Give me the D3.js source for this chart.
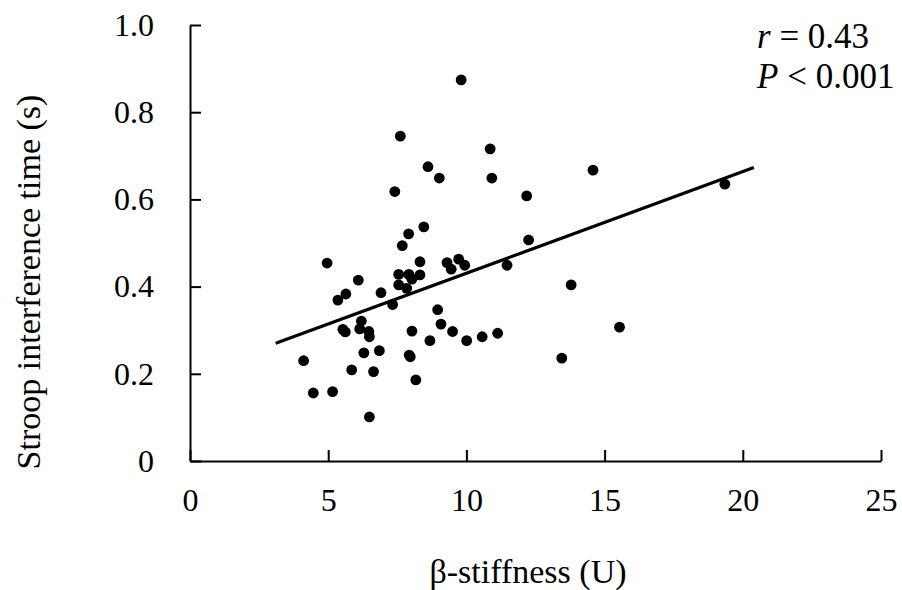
<!DOCTYPE html>
<html lang="en">
<head>
    <meta charset="UTF-8">
    <title>Stroop vs beta-stiffness</title>
    <script src="https://d3js.org/d3.v7.min.js"></script>
    <style>
        body { margin: 0; background: #fff; }
        text { font-family: "Liberation Serif", "Times New Roman", serif; fill: #000; }
        .axis path, .axis line { stroke: #000; stroke-width: 2; }
        .axis text { font-size: 32px; }
    </style>
</head>
<body>
<script>
    const width = 902;
    const height = 590;

    // data
    const stiffness = [9.81, 7.61, 10.86, 8.61, 9.02, 10.92, 7.41, 12.18, 14.58, 19.35,
        8.46, 7.91, 7.68, 4.96, 12.25, 6.09, 8.32, 9.30, 9.45, 9.72,
        9.94, 11.47, 7.55, 7.92, 8.03, 8.32, 7.55, 7.84, 5.64, 5.35,
        6.91, 7.33, 13.79, 8.96, 9.08, 6.20, 6.14, 6.47, 6.49, 5.53,
        5.62, 8.03, 9.50, 11.13, 10.57, 8.68, 10.01, 15.54, 6.29, 6.85,
        7.93, 7.97, 13.45, 4.11, 5.85, 6.64, 8.17, 4.46, 5.16, 6.49];
    const stroop = [0.874, 0.745, 0.716, 0.675, 0.649, 0.649, 0.618, 0.608, 0.667, 0.635,
        0.537, 0.521, 0.494, 0.454, 0.507, 0.415, 0.457, 0.455, 0.440, 0.463,
        0.449, 0.449, 0.428, 0.428, 0.417, 0.427, 0.404, 0.396, 0.383, 0.369,
        0.386, 0.359, 0.404, 0.347, 0.314, 0.321, 0.303, 0.297, 0.285, 0.302,
        0.296, 0.298, 0.297, 0.293, 0.285, 0.276, 0.276, 0.307, 0.248, 0.253,
        0.243, 0.239, 0.236, 0.230, 0.209, 0.205, 0.186, 0.156, 0.159, 0.101];

    // regression line end points
    const fitX = [3.1, 20.4];
    const fitY = [0.270, 0.673];

    const xTicks = [0, 5, 10, 15, 20, 25];
    const yTicks = [0, 0.2, 0.4, 0.6, 0.8, 1.0];
    const statLines = [["r", " = 0.43"], ["P", " < 0.001"]];

    const margin = {left: 190, right: 21, top: 25, bottom: 129};

    const svg = d3.select("body").append("svg")
            .attr("width", width).attr("height", height);

    const x = d3.scaleLinear().domain([0, 25]).range([margin.left, width - margin.right]);
    const y = d3.scaleLinear().domain([0, 1]).range([height - margin.bottom, margin.top]);

    svg.append("g")
            .attr("class", "axis")
            .attr("transform", `translate(0,${y(0)})`)
            .call(d3.axisBottom(x).tickValues(xTicks).tickSizeInner(-11).tickSizeOuter(0)
                    .tickPadding(27).tickFormat(d3.format("d")));

    svg.append("g")
            .attr("class", "axis")
            .attr("transform", `translate(${x(0)},0)`)
            .call(d3.axisLeft(y).tickValues(yTicks).tickSizeInner(-11).tickSizeOuter(0)
                    .tickPadding(36).tickFormat(d => d === 0 ? "0" : d3.format(".1f")(d)));

    // points
    svg.append("g").selectAll("circle")
            .data(stiffness.map((v, i) => [v, stroop[i]]))
            .enter().append("circle")
            .attr("cx", d => x(d[0]))
            .attr("cy", d => y(d[1]))
            .attr("r", 5.4)
            .attr("fill", "#000");

    // fit line
    svg.append("line")
            .attr("x1", x(fitX[0])).attr("y1", y(fitY[0]))
            .attr("x2", x(fitX[1])).attr("y2", y(fitY[1]))
            .attr("stroke", "#000").attr("stroke-width", 3.2);

    // r and P text
    const stat = svg.append("g");
    statLines.forEach((s, i) => {
        const t = stat.append("text")
                .attr("x", 757).attr("y", 48 + i * 40)
                .style("font-size", "35px");
        t.append("tspan").style("font-style", "italic").text(s[0]);
        t.append("tspan").text(s[1]);
    });

    // axis titles
    svg.append("text")
            .attr("x", 528).attr("y", 583)
            .attr("text-anchor", "middle")
            .style("font-size", "34px")
            .text("β-stiffness (U)");

    svg.append("text")
            .attr("transform", `translate(40,282) rotate(-90)`)
            .attr("text-anchor", "middle")
            .style("font-size", "34px")
            .text("Stroop interference time (s)");
</script>
</body>
</html>
